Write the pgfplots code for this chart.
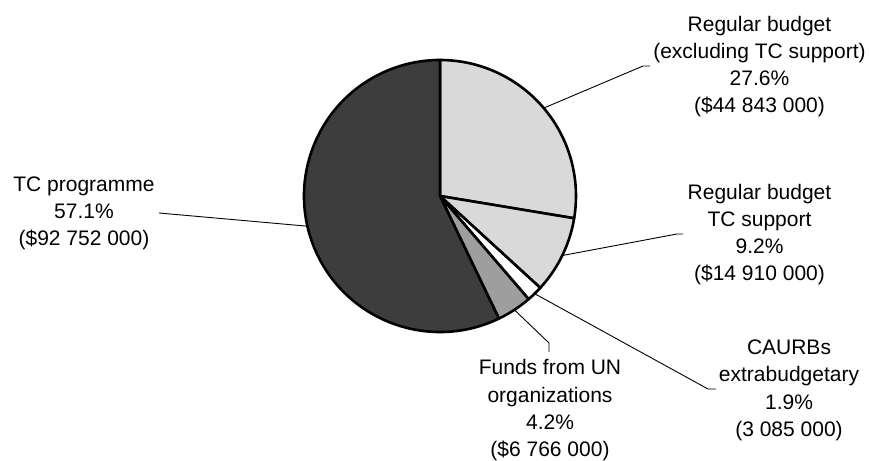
\documentclass[border=0pt]{standalone}
\usepackage{fontspec}
\setmainfont{Liberation Sans}
\usepackage{pgfplots}
\usepackage{pgfplotstable}
\pgfplotsset{compat=1.18}

% budget shares, millions of dollars, clockwise from 12 o'clock
\pgfplotstableread{
part value
rbx  44.843
rbtc 14.910
caurb 3.085
unorg 6.766
tcp  92.752
}\pietab

\newcommand{\lbl}[3]{\node[anchor=base,inner sep=0pt] at (axis cs:#1,#2) {#3};}

\begin{document}
\begin{tikzpicture}[font=\fontsize{21bp}{27bp}\selectfont]
\pgfplotstablegetelem{0}{value}\of\pietab \let\vA\pgfplotsretval
\pgfplotstablegetelem{1}{value}\of\pietab \let\vB\pgfplotsretval
\pgfplotstablegetelem{2}{value}\of\pietab \let\vC\pgfplotsretval
\pgfplotstablegetelem{3}{value}\of\pietab \let\vD\pgfplotsretval
\pgfplotstablegetelem{4}{value}\of\pietab \let\vE\pgfplotsretval
\pgfmathsetmacro\tot{\vA+\vB+\vC+\vD+\vE}
\pgfmathsetmacro\aA{90-360*\vA/\tot}
\pgfmathsetmacro\aB{\aA-360*\vB/\tot}
\pgfmathsetmacro\aC{\aB-360*\vC/\tot}
\pgfmathsetmacro\aD{\aC-360*\vD/\tot}
\pgfmathsetmacro\mA{(90+\aA)/2}
\pgfmathsetmacro\mB{(\aA+\aB)/2}
\pgfmathsetmacro\mC{(\aB+\aC)/2}
\pgfmathsetmacro\mD{(\aC+\aD)/2}
\pgfmathsetmacro\mE{(\aD-270)/2}
\begin{axis}[
    hide axis, clip=false,
    x=1bp, y=1bp, y dir=reverse,
    xmin=0, xmax=869, ymin=0, ymax=461,
    enlargelimits=false,
]
\path (axis cs:0,0) (axis cs:869,461);
% leader lines
\begin{scope}[line width=0.9bp]
\draw (axis cs:440,196) ++(\mA:136bp) -- (axis cs:643,66) -- (axis cs:650,66);
\draw (axis cs:440,196) ++(\mB:136bp) -- (axis cs:677,234) -- (axis cs:683,234);
\draw (axis cs:440,196) ++(\mC:136bp) -- (axis cs:708,389) -- (axis cs:716,389);
\draw (axis cs:440,196) ++(\mD:136bp) -- (axis cs:549,343) -- (axis cs:549,352);
\draw (axis cs:440,196) ++(\mE:136bp) -- (axis cs:159,213);
\end{scope}
\begin{scope}[draw=black, line width=2.6bp, line join=round]
\filldraw[fill=black!15] (axis cs:440,196) -- ++(90:136bp) arc[start angle=90, end angle=\aA, radius=136bp] -- cycle;
\filldraw[fill=black!15] (axis cs:440,196) -- ++(\aA:136bp) arc[start angle=\aA, end angle=\aB, radius=136bp] -- cycle;
\filldraw[fill=white] (axis cs:440,196) -- ++(\aB:136bp) arc[start angle=\aB, end angle=\aC, radius=136bp] -- cycle;
\filldraw[fill=black!38] (axis cs:440,196) -- ++(\aC:136bp) arc[start angle=\aC, end angle=\aD, radius=136bp] -- cycle;
\filldraw[fill=black!76] (axis cs:440,196) -- ++(\aD:136bp) arc[start angle=\aD, end angle=-270, radius=136bp] -- cycle;
\end{scope}
% labels
\lbl{759.5}{32}{Regular budget}
\lbl{759.5}{59}{(excluding TC support)}
\lbl{759.5}{86}{27.6\%}
\lbl{759.5}{113}{(\$44 843 000)}
\lbl{759.5}{200}{Regular budget}
\lbl{759.5}{227}{TC support}
\lbl{759.5}{254}{9.2\%}
\lbl{759.5}{281}{(\$14 910 000)}
\lbl{789}{355}{CAURBs}
\lbl{789}{382}{extrabudgetary}
\lbl{789}{409}{1.9\%}
\lbl{789}{436}{(3 085 000)}
\lbl{550}{375}{Funds from UN}
\lbl{550}{402}{organizations}
\lbl{550}{429}{4.2\%}
\lbl{550}{456}{(\$6 766 000)}
\lbl{84}{192}{TC programme}
\lbl{84}{219}{57.1\%}
\lbl{84}{246}{(\$92 752 000)}
\end{axis}
\end{tikzpicture}
\end{document}
